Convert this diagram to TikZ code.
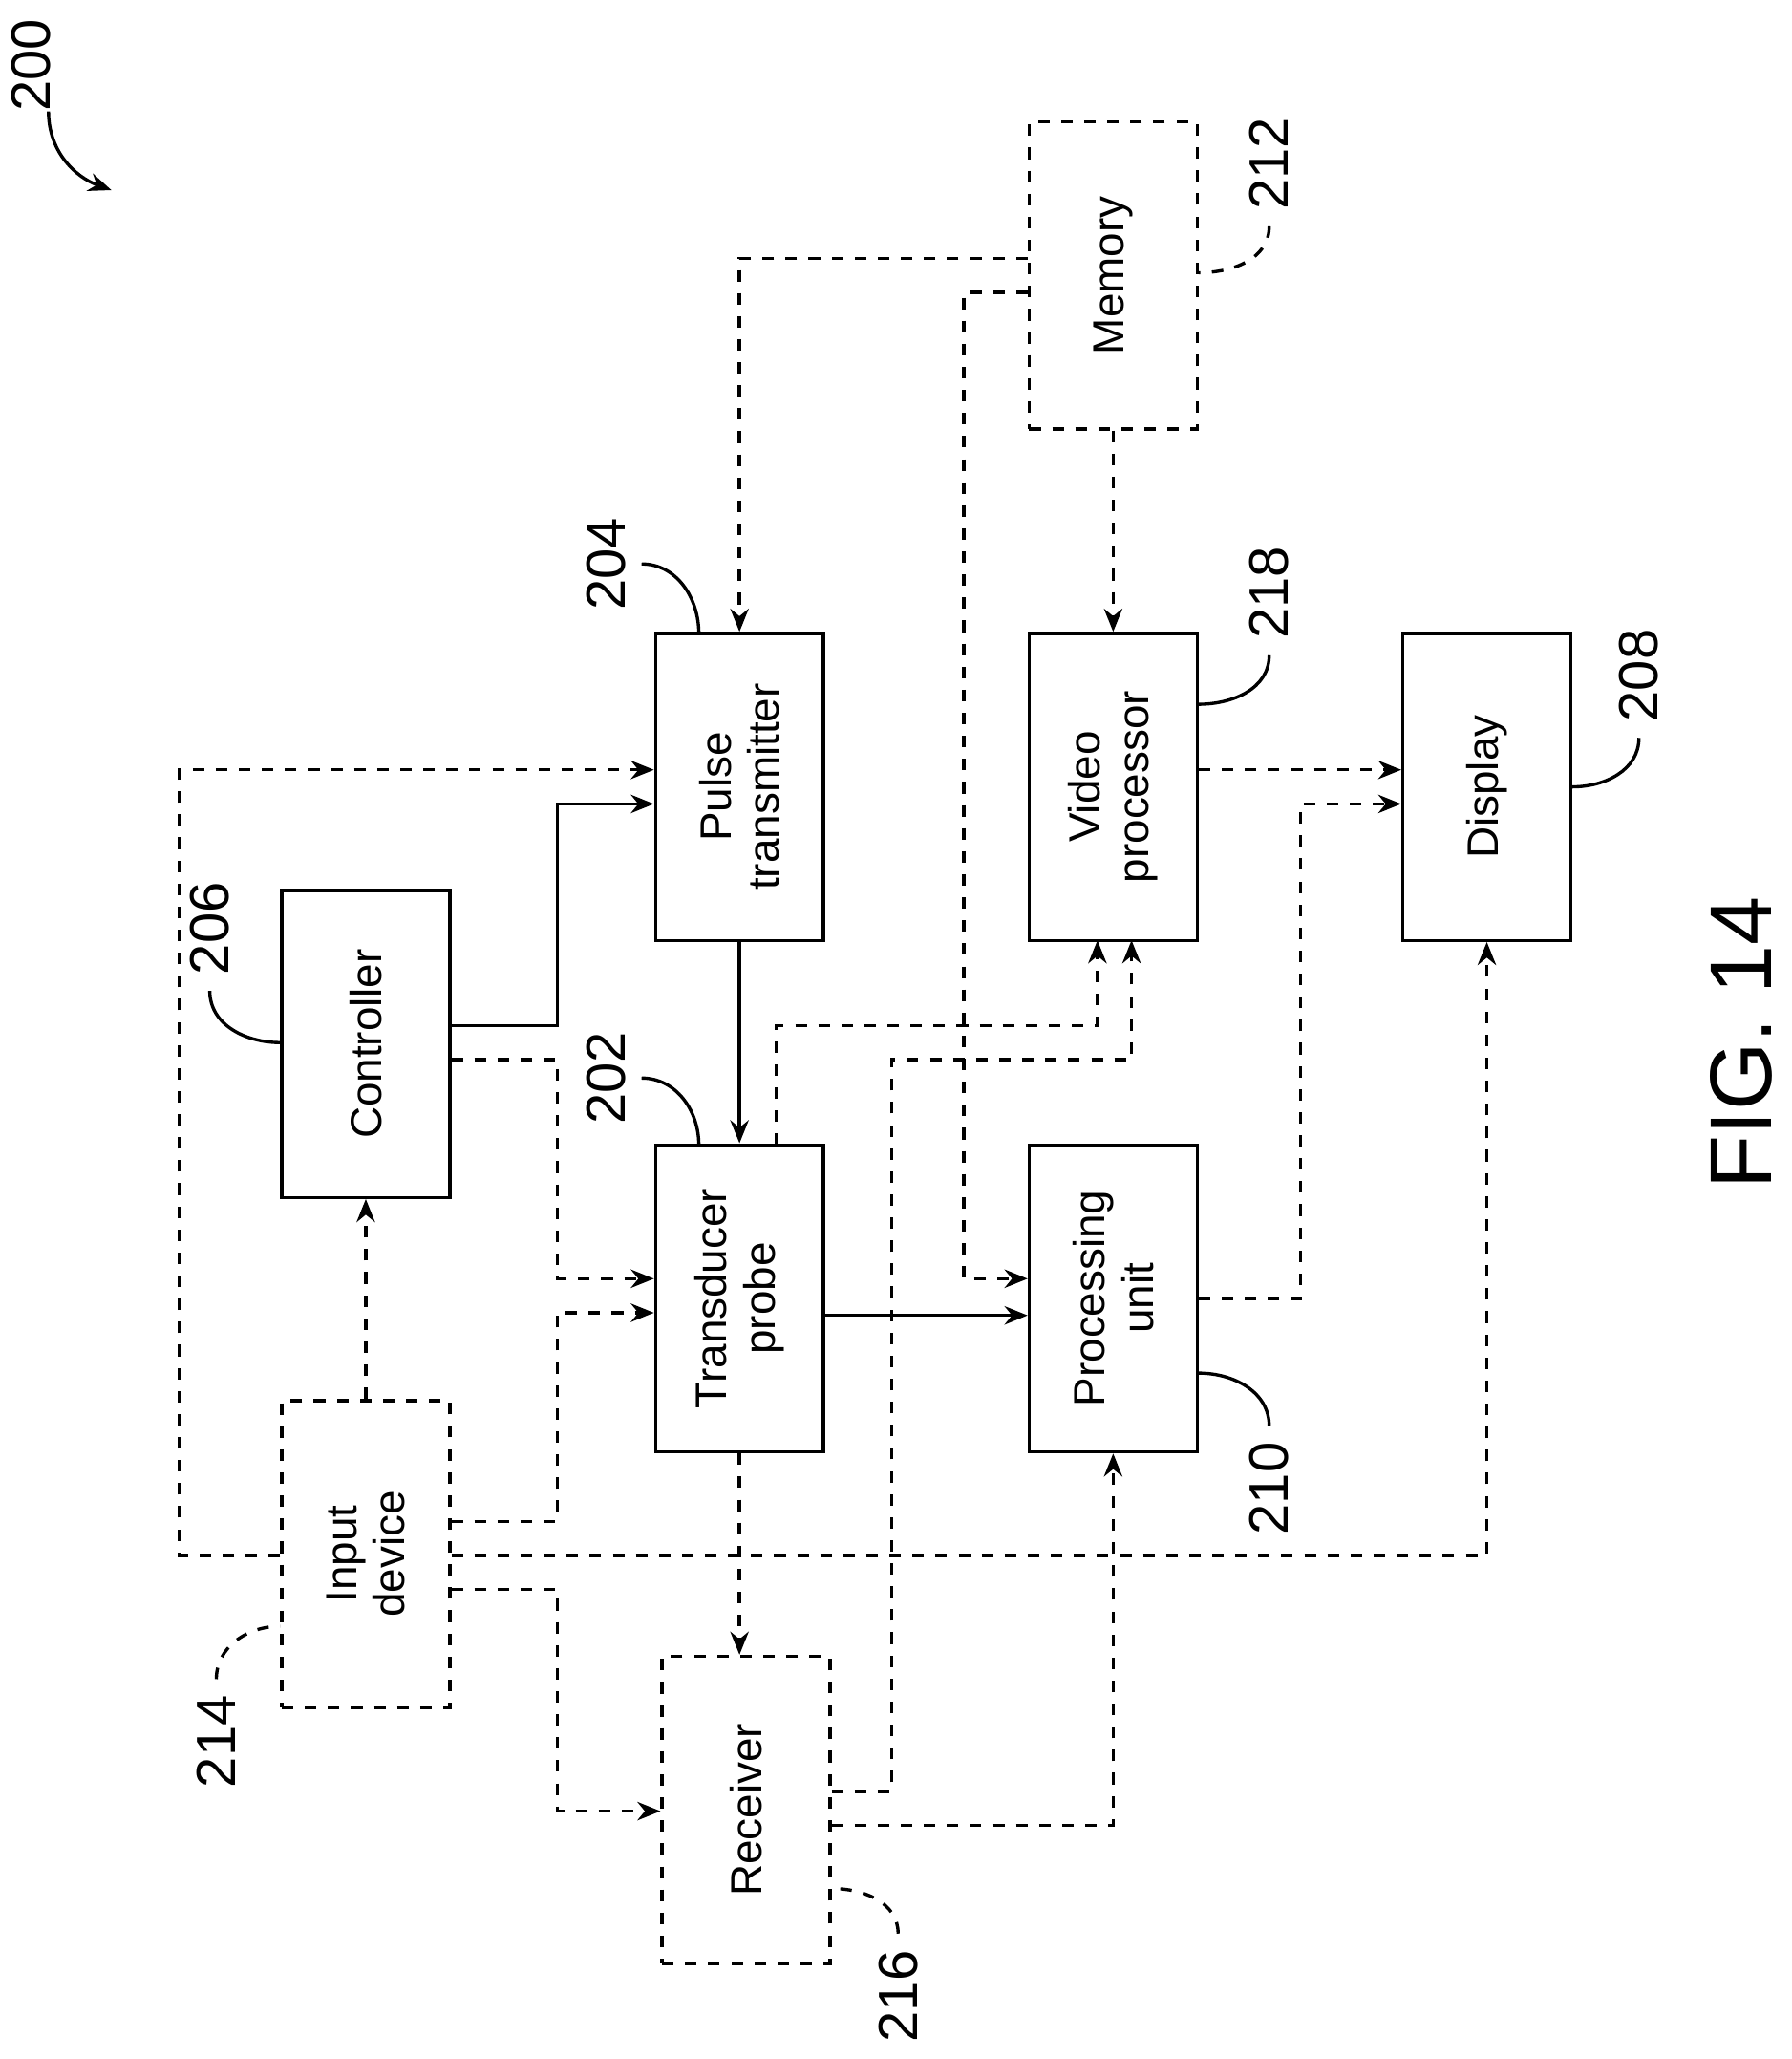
\documentclass[tikz,border=0pt]{standalone}
\usepackage{fontspec}
\setmainfont{Liberation Sans}
\usetikzlibrary{arrows.meta}
\tikzset{
  box/.style={draw,line width=0.7pt,minimum width=1.28cm,minimum height=2.34cm,inner sep=0pt},
  dbox/.style={box,dash pattern=on 2.5pt off 2.5pt},
  txt/.style={rotate=90,align=center,font=\fontsize{9.5}{10.5}\selectfont},
  num/.style={rotate=90,font=\fontsize{12}{13}\selectfont},
  sl/.style={line width=0.7pt,-{Stealth[length=5pt,width=4pt]}},
  dl/.style={sl,dash pattern=on 2.5pt off 2.5pt},
  lead/.style={line width=0.7pt},
}
\begin{document}
\begin{tikzpicture}[x=0.01cm,y=-0.01cm]
\useasboundingbox (0,0) rectangle (1366,1570);

% blocks
\node[dbox] (memory) at (849,210) {};
\node[txt] at (memory) {Memory};
\node[box] (pulse) at (564,600) {};
\node[txt] at (pulse) {Pulse\\transmitter};
\node[box] (video) at (849,600) {};
\node[txt] at (video) {Video\\processor};
\node[box] (display) at (1134,600) {};
\node[txt] at (display) {Display};
\node[box] (ctrl) at (279,796) {};
\node[txt] at (ctrl) {Controller};
\node[box] (probe) at (564,990) {};
\node[txt] at (probe) {Transducer\\probe};
\node[box] (proc) at (849,990) {};
\node[txt] at (proc) {Processing\\unit};
\node[dbox] (input) at (279,1185) {};
\node[txt] at (input) {Input\\device};
\node[dbox] (recv) at (569,1380) {};
\node[txt] at (recv) {Receiver};

% connectors
\draw[dl] (memory.west |- 0,197) -| (pulse.north);
\draw[dl] (memory.west |- 0,223) -| (735,975) -- (proc.west |- 0,975);
\draw[dl] (memory.south) -- (video.north);
\draw[sl] (pulse.south) -- (probe.north);
\draw[sl] (ctrl.east |- 0,782) -| (425,613) -- (pulse.west |- 0,613);
\draw[dl] (ctrl.east |- 0,808) -| (425,975) -- (probe.west |- 0,975);
\draw[dl] (input.north) -- (ctrl.south);
\draw[dl] (input.west |- 0,1186) -| (137,587) -- (pulse.west |- 0,587);
\draw[dl] (input.east |- 0,1186) -| (display.south);
\draw[dl] (input.east |- 0,1160) -| (425,1001) -- (probe.west |- 0,1001);
\draw[dl] (input.east |- 0,1212) -| (425,1381) -- (recv.west |- 0,1381);
\draw[dl] (probe.south) -- (recv.north -| probe.south);
\draw[sl] (probe.east |- 0,1003) -- (proc.west |- 0,1003);
\draw[dl] (592,873) |- (837,782) -- (837,717);
\draw[dl] (recv.east |- 0,1366) -| (680,808) -| (863,717);
\draw[dl] (recv.east |- 0,1392) -| (proc.south);
\draw[dl] (proc.east |- 0,990) -| (992,613) -- (display.west |- 0,613);
\draw[dl] (video.east |- 0,587) -- (display.west |- 0,587);

% reference numerals
\node[num] (n200) at (24,50) {200};
\draw[sl] (37,85) to[out=-90,in=160] (85,145);
\node[num] (n212) at (968,125) {212};
\draw[lead,dash pattern=on 2.5pt off 2.5pt] (n212.west) to[out=-90,in=0] (memory.east |- 0,208);
\node[num] (n204) at (462,430) {204};
\draw[lead] (n204.south) to[out=0,in=90] (533,483);
\node[num] (n218) at (968,452) {218};
\draw[lead] (n218.west) to[out=-90,in=0] (video.east |- 0,537);
\node[num] (n208) at (1250,515) {208};
\draw[lead] (n208.west) to[out=-90,in=0] (display.east |- 0,600);
\node[num] (n206) at (160,708) {206};
\draw[lead] (n206.west) to[out=-90,in=180] (ctrl.west |- 0,795);
\node[num] (n202) at (462,822) {202};
\draw[lead] (n202.south) to[out=0,in=90] (533,873);
\node[num] (n210) at (968,1135) {210};
\draw[lead] (n210.east) to[out=90,in=0] (proc.east |- 0,1047);
\node[num] (n214) at (165,1328) {214};
\draw[lead,dash pattern=on 2.5pt off 2.5pt] (n214.east) to[out=90,in=180] (input.west |- 0,1240);
\node[num] (n216) at (685,1522) {216};
\draw[lead,dash pattern=on 2.5pt off 2.5pt] (n216.east) to[out=90,in=0] (recv.east |- 0,1440);
\node[rotate=90,font=\fontsize{19}{21}\selectfont] (fig) at (1328,795) {FIG. 14};
\end{tikzpicture}
\end{document}
